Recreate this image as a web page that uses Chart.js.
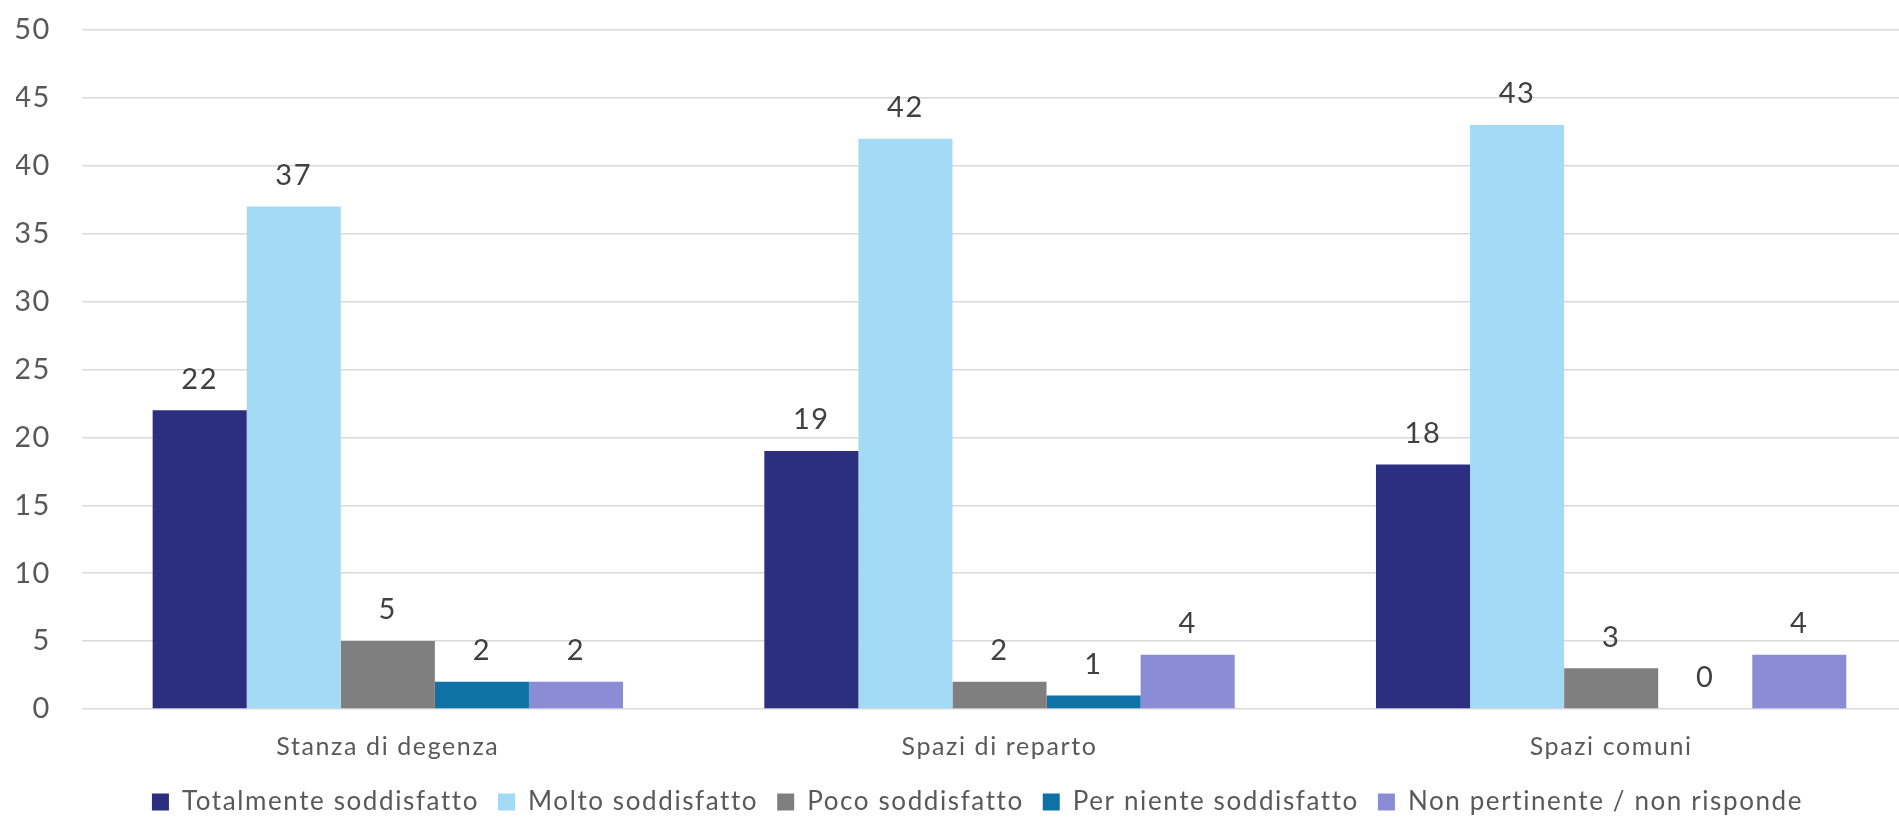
<!DOCTYPE html>
<html lang="it">
<head>
<meta charset="utf-8">
<title>Soddisfazione per gli spazi</title>
<script src="https://cdn.jsdelivr.net/npm/chart.js@4.4.1/dist/chart.umd.min.js"></script>
<style>
  html, body { margin: 0; padding: 0; background: #ffffff; overflow: hidden; }
  #wrap { position: absolute; left: 0; top: 0; width: 1952px; height: 825px; }
</style>
</head>
<body>
<div id="wrap"><canvas id="chart" width="1952" height="825"></canvas></div>
<script>
// Categories and series (number of responses)
const categories = ['Stanza di degenza', 'Spazi di reparto', 'Spazi comuni'];
const seriesNames = [
  'Totalmente soddisfatto',
  'Molto soddisfatto',
  'Poco soddisfatto',
  'Per niente soddisfatto',
  'Non pertinente / non risponde'
];
const totalmente = [22, 19, 18];
const molto = [37, 42, 43];
const poco = [5, 2, 3];
const perNiente = [2, 1, 0];
const nonRisponde = [2, 4, 4];
const yTicks = [0, 5, 10, 15, 20, 25, 30, 35, 40, 45, 50];

const seriesColors = ['#2C2E80', '#A3DAF5', '#7F7F7F', '#0F72A6', '#8A8DD6'];
const seriesValues = [totalmente, molto, poco, perNiente, nonRisponde];

const FONT = 'Lato, "Open Sans", "DejaVu Sans", sans-serif';
const TRACKING = '1.6px';

// Slightly open letter spacing for all chart text
const tracking = {
  id: 'tracking',
  beforeLayout(chart) { chart.ctx.letterSpacing = TRACKING; },
  beforeDraw(chart) { chart.ctx.letterSpacing = TRACKING; }
};

// Nudges the legend row a little to the right
const legendShift = {
  id: 'legendShift',
  afterLayout(chart) {
    if (chart.legend) {
      chart.legend.left += 11;
      chart.legend.right += 11;
    }
  }
};

// Writes each bar's value above it
const valueLabels = {
  id: 'valueLabels',
  afterDatasetsDraw(chart) {
    const ctx = chart.ctx;
    ctx.save();
    ctx.letterSpacing = TRACKING;
    ctx.font = '29px ' + FONT;
    ctx.fillStyle = '#404040';
    ctx.textAlign = 'center';
    ctx.textBaseline = 'middle';
    chart.data.datasets.forEach((ds, di) => {
      const meta = chart.getDatasetMeta(di);
      meta.data.forEach((bar, i) => {
        ctx.fillText(String(ds.data[i]), bar.x, bar.y - 31);
      });
    });
    ctx.restore();
  }
};

new Chart(document.getElementById('chart'), {
  type: 'bar',
  data: {
    labels: categories,
    datasets: seriesNames.map((name, i) => ({
      label: name,
      data: seriesValues[i],
      backgroundColor: seriesColors[i],
      borderWidth: 0,
      barPercentage: 1,
      categoryPercentage: 0.769
    }))
  },
  options: {
    responsive: false,
    animation: false,
    devicePixelRatio: 1,
    layout: { padding: { left: 16, right: 35, top: 30, bottom: 0 } },
    plugins: {
      legend: {
        position: 'bottom',
        labels: {
          font: { family: FONT, size: 26 },
          color: '#595959',
          boxWidth: 17,
          boxHeight: 17,
          padding: 19
        }
      },
      tooltip: { enabled: false }
    },
    scales: {
      x: {
        grid: { display: false, drawTicks: false },
        border: { display: false },
        afterFit(axis) { axis.height = 61; },
        ticks: {
          font: { family: FONT, size: 25 },
          color: '#595959',
          padding: 23
        }
      },
      y: {
        min: 0,
        max: 50,
        afterBuildTicks(axis) { axis.ticks = yTicks.map(v => ({ value: v })); },
        afterFit(axis) {
          axis.width = 66;
          axis.paddingTop = 0;
          axis.paddingBottom = 0;
        },
        grid: { color: '#D9D9D9', lineWidth: 1.5, drawTicks: false },
        border: { display: false },
        ticks: {
          font: { family: FONT, size: 29 },
          color: '#595959',
          padding: 31
        }
      }
    }
  },
  plugins: [tracking, legendShift, valueLabels]
});
</script>
</body>
</html>
